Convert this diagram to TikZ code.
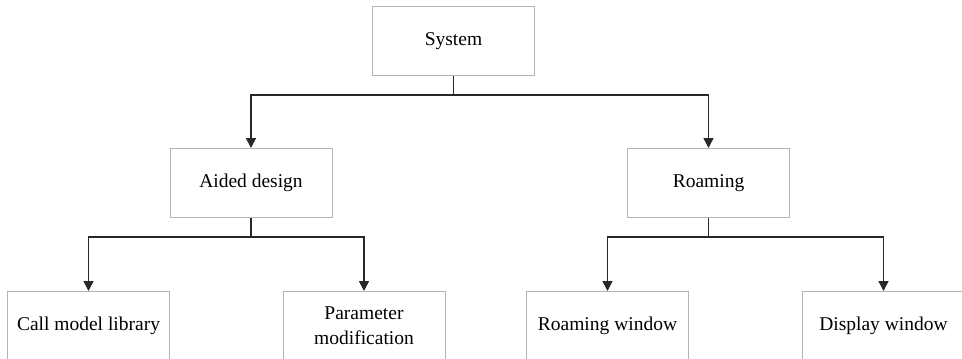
\documentclass[tikz,border=0pt]{standalone}
\usepackage{fontspec}
\setmainfont{Liberation Serif}
\usetikzlibrary{arrows.meta}
\definecolor{boxgray}{RGB}{180,180,180}
\definecolor{linegray}{RGB}{40,40,40}
\begin{document}
\begin{tikzpicture}[x=1pt,y=1pt,
  box/.style={draw=boxgray,line width=1pt,fill=white,minimum width=162pt,minimum height=69pt,inner sep=0pt,align=center,font=\fontsize{19.5}{25}\selectfont},
  conn/.style={draw=linegray,line width=1.5pt},
  arr/.style={conn,-{Triangle[width=10pt,length=10pt]}}]
\useasboundingbox (0,0) rectangle (962,-359);
\clip (0,0) rectangle (962,-359);
\node[box] (sys) at (453.5,-41) {System};
\node[box] (aid) at (251,-183) {Aided design};
\node[box] (roam) at (708.5,-183) {Roaming};
\node[box] (cml) at (88.5,-326) {Call model library};
\node[box] (par) at (364,-326) {Parameter\\modification};
\node[box] (rw) at (607.5,-326) {Roaming window};
\node[box] (dw) at (883.5,-326) {Display window};
\coordinate (j1) at (453.5,-95);
\coordinate (j2) at (251,-237);
\coordinate (j3) at (708.5,-237);
\draw[arr] (sys.south) -- (j1) -| (aid.north);
\draw[arr] (j1) -| (roam.north);
\draw[arr] (aid.south) -- (j2) -| (cml.north);
\draw[arr] (j2) -| (par.north);
\draw[arr] (roam.south) -- (j3) -| (rw.north);
\draw[arr] (j3) -| (dw.north);
\end{tikzpicture}
\end{document}
